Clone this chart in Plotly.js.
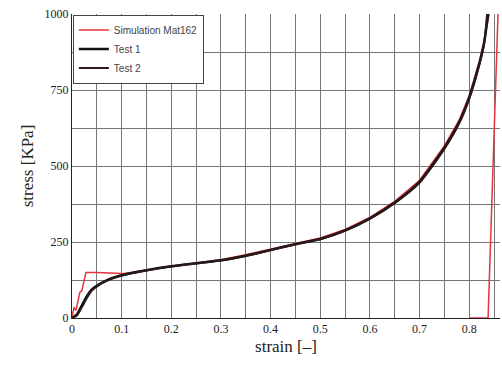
<!DOCTYPE html>
<html><head><meta charset="utf-8">
<script src="https://cdn.plot.ly/plotly-3.0.1.min.js"></script>
<style>html,body{margin:0;padding:0;background:#fff}</style>
</head><body><div id="chart" style="width:502px;height:370px"></div>
<script>
const seriesNames = ["Simulation Mat162", "Test 1", "Test 2"];
const simStrain = [0,0.004,0.008,0.012,0.016,0.02,0.028,0.05,0.08,0.1,0.12,0.15,0.2,0.25,0.3,0.35,0.4,0.45,0.5,0.55,0.6,0.65,0.7,0.75,0.78,0.8,0.82,0.83,0.84,null,0.80,0.838,0.858];
const simStress = [0,35,25,60,85,90,150,150,149,146,150,158,171,181,192,208,227,246,263,291,331,384,453,566,652,732,842,912,1000,null,0,0,1000];
const t1Strain = [0,0.01,0.02,0.03,0.04,0.05,0.06,0.08,0.1,0.15,0.2,0.25,0.3,0.35,0.4,0.45,0.5,0.55,0.6,0.65,0.7,0.75,0.78,0.8,0.82,0.83,0.838];
const t1Stress = [0,12,42,72,94,106,116,131,141,157,170,180,190,205,224,243,260,288,328,380,448,560,645,725,835,905,1000];
const t2Strain = [0,0.01,0.02,0.03,0.04,0.05,0.06,0.08,0.1,0.15,0.2,0.25,0.3,0.35,0.4,0.45,0.5,0.55,0.6,0.65,0.7,0.75,0.78,0.8,0.82,0.83,0.836];
const t2Stress = [0,8,36,66,90,103,114,129,139,156,169,179,189,204,223,242,259,287,326,378,445,556,641,721,831,901,1000];
const xTicks = [0,0.1,0.2,0.3,0.4,0.5,0.6,0.7,0.8];
const xTickText = ["0","0.1","0.2","0.3","0.4","0.5","0.6","0.7","0.8"];
const yTicks = [0,250,500,750,1000];

const traces = [
  {x: simStrain, y: simStress, name: seriesNames[0], mode: "lines", line: {color: "#e4343c", width: 1.5}},
  {x: t1Strain, y: t1Stress, name: seriesNames[1], mode: "lines", line: {color: "#111", width: 2.5, shape: "spline", smoothing: 0.6}},
  {x: t2Strain, y: t2Stress, name: seriesNames[2], mode: "lines", line: {color: "#2a1a1a", width: 2, shape: "spline", smoothing: 0.6}}
];
const gridc = "#777";
const layout = {
  width: 502, height: 370,
  margin: {l: 72, r: 2, t: 14, b: 52},
  paper_bgcolor: "#fff", plot_bgcolor: "#fff",
  showlegend: true,
  legend: {x: 0.002, y: 0.998, xanchor: "left", yanchor: "top", bgcolor: "#fff", bordercolor: "#444", borderwidth: 1,
    font: {family: "Liberation Sans, Arial", size: 10, color: "#444"}, tracegroupgap: 0, itemwidth: 30},
  xaxis: {range: [0, 0.862], tickvals: xTicks, ticktext: xTickText, showgrid: true, gridcolor: gridc, gridwidth: 1,
    minor: {dtick: 0.05, tick0: 0, showgrid: true, gridcolor: gridc, gridwidth: 1},
    zeroline: false, showline: true, linecolor: "#222", linewidth: 1, ticks: "",
    tickfont: {family: "Liberation Serif, Times New Roman", size: 12, color: "#222"},
    title: {text: "strain [–]", font: {family: "Liberation Serif, Times New Roman", size: 17, color: "#222"}, standoff: 4}},
  yaxis: {range: [0, 1000], tickvals: yTicks, showgrid: true, gridcolor: gridc, gridwidth: 1,
    minor: {dtick: 125, tick0: 0, showgrid: true, gridcolor: gridc, gridwidth: 1},
    zeroline: false, showline: true, linecolor: "#222", linewidth: 1, ticks: "",
    tickfont: {family: "Liberation Serif, Times New Roman", size: 12, color: "#222"},
    title: {text: "stress [KPa]", font: {family: "Liberation Serif, Times New Roman", size: 17, color: "#222"}, standoff: 6}}
};
Plotly.newPlot("chart", traces, layout, {displayModeBar: false, staticPlot: true});
</script></body></html>
